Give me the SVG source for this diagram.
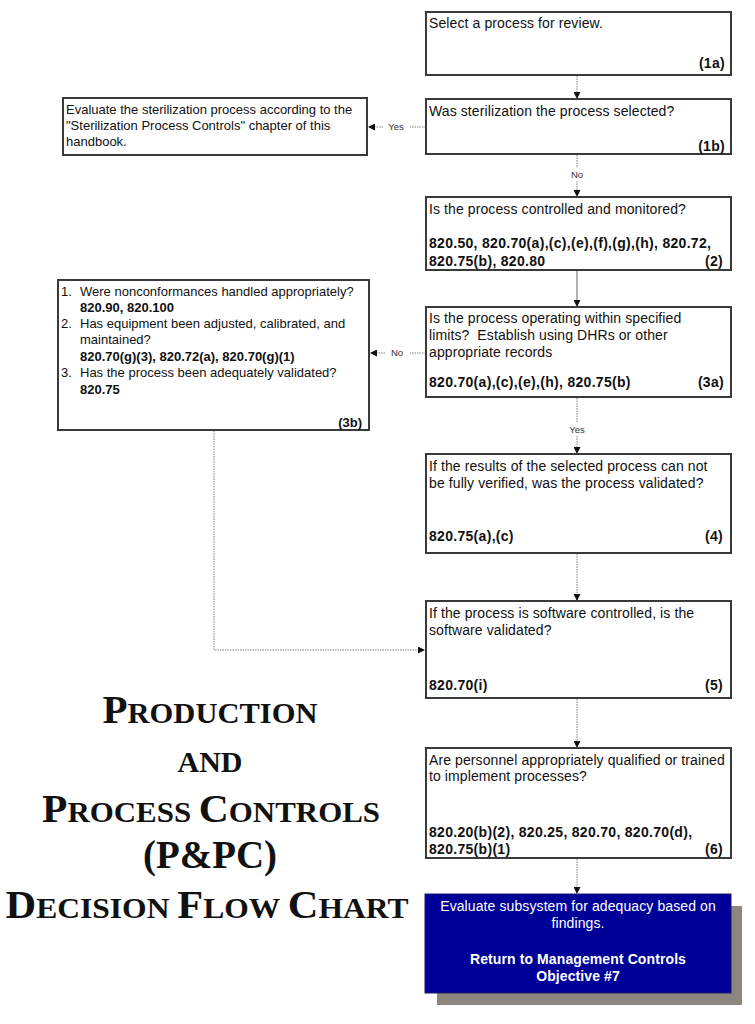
<svg xmlns="http://www.w3.org/2000/svg" width="755" height="1024" viewBox="0 0 755 1024">
<defs>
<style>
.box{fill:#fff;stroke:#3a3a3a;stroke-width:2}
.t{font-family:"Liberation Sans",Arial,sans-serif;font-size:14px;letter-spacing:0.1px;fill:#111}
.t.b,.t.r{letter-spacing:0.3px}
.ts{font-family:"Liberation Sans",Arial,sans-serif;font-size:13px;fill:#111}
.b{font-weight:bold}
.r{text-anchor:end;font-weight:bold}
.lbl{font-family:"Liberation Sans",Arial,sans-serif;font-size:9.5px;fill:#333;text-anchor:middle}
.con{fill:none;stroke:#808080;stroke-width:1;stroke-dasharray:1.5 1}
.title{font-family:"Liberation Serif","Times New Roman",serif;font-weight:bold;fill:#111;text-anchor:middle}
.w{font-family:"Liberation Sans",Arial,sans-serif;font-size:14px;letter-spacing:0.1px;fill:#fff;text-anchor:middle}
</style>
<marker id="ah" viewBox="0 0 10 10" refX="10" refY="5" markerWidth="7" markerHeight="7" markerUnits="userSpaceOnUse" orient="auto">
<path d="M0,0 L10,5 L0,10 z" fill="#111"/>
</marker>
</defs>
<rect width="755" height="1024" fill="#fff"/>

<g id="connectors">
<line class="con" x1="577" y1="76" x2="577" y2="99" marker-end="url(#ah)"/>
<line class="con" x1="577" y1="155" x2="577" y2="168"/>
<line class="con" x1="577" y1="181" x2="577" y2="197" marker-end="url(#ah)"/>
<text class="lbl" x="577" y="178">No</text>
<line class="con" x1="577" y1="271" x2="577" y2="307" marker-end="url(#ah)" style="stroke-dasharray:none;stroke:#666"/>
<line class="con" x1="577" y1="398" x2="577" y2="423"/>
<line class="con" x1="577" y1="436" x2="577" y2="454" marker-end="url(#ah)"/>
<text class="lbl" x="577" y="433">Yes</text>
<line class="con" x1="577" y1="554" x2="577" y2="601" marker-end="url(#ah)"/>
<line class="con" x1="577" y1="699" x2="577" y2="748" marker-end="url(#ah)"/>
<line class="con" x1="577" y1="859" x2="577" y2="894" marker-end="url(#ah)"/>
<line class="con" x1="426" y1="127" x2="410" y2="127"/>
<line class="con" x1="383" y1="127" x2="368" y2="127" marker-end="url(#ah)"/>
<text class="lbl" x="396" y="130">Yes</text>
<line class="con" x1="426" y1="353" x2="410" y2="353"/>
<line class="con" x1="385" y1="353" x2="370" y2="353" marker-end="url(#ah)"/>
<text class="lbl" x="397" y="356">No</text>
<polyline class="con" points="214,431 214,650 425,650" marker-end="url(#ah)"/>
</g>

<g id="n1a">
<rect class="box" x="426" y="12" width="305" height="63"/>
<text class="t" x="429" y="28">Select a process for review.</text>
<text class="t r" x="725" y="68">(1a)</text>
</g>

<g id="n1b">
<rect class="box" x="426" y="99" width="305" height="55"/>
<text class="t" x="429" y="116">Was sterilization the process selected?</text>
<text class="t r" x="725" y="151">(1b)</text>
</g>

<g id="nSter">
<rect class="box" x="63" y="98" width="304" height="57"/>
<text class="ts" x="66" y="114">Evaluate the sterilization process according to the</text>
<text class="ts" x="66" y="130">"Sterilization Process Controls" chapter of this</text>
<text class="ts" x="66" y="146">handbook.</text>
</g>

<g id="n2">
<rect class="box" x="426" y="197" width="305" height="73"/>
<text class="t" x="429" y="214">Is the process controlled and monitored?</text>
<text class="t b" x="429" y="248">820.50, 820.70(a),(c),(e),(f),(g),(h), 820.72,</text>
<text class="t b" x="429" y="266">820.75(b), 820.80</text>
<text class="t r" x="723" y="266">(2)</text>
</g>

<g id="n3a">
<rect class="box" x="426" y="307" width="305" height="90"/>
<text class="t" x="429" y="323">Is the process operating within specified</text>
<text class="t" x="429" y="340" style="white-space:pre">limits?  Establish using DHRs or other</text>
<text class="t" x="429" y="357">appropriate records</text>
<text class="t b" x="429" y="387">820.70(a),(c),(e),(h), 820.75(b)</text>
<text class="t r" x="724" y="387">(3a)</text>
</g>

<g id="n3b">
<rect class="box" x="58" y="280" width="311" height="150"/>
<text class="ts" x="61" y="296">1.</text>
<text class="ts" x="80" y="296">Were nonconformances handled appropriately?</text>
<text class="ts b" x="80" y="312">820.90, 820.100</text>
<text class="ts" x="61" y="328">2.</text>
<text class="ts" x="80" y="328">Has equipment been adjusted, calibrated, and</text>
<text class="ts" x="80" y="344">maintained?</text>
<text class="ts b" x="80" y="361">820.70(g)(3), 820.72(a), 820.70(g)(1)</text>
<text class="ts" x="61" y="377">3.</text>
<text class="ts" x="80" y="377">Has the process been adequately validated?</text>
<text class="ts b" x="80" y="394">820.75</text>
<text class="ts r" x="362" y="427">(3b)</text>
</g>

<g id="n4">
<rect class="box" x="426" y="454" width="305" height="99"/>
<text class="t" x="429" y="471">If the results of the selected process can not</text>
<text class="t" x="429" y="488">be fully verified, was the process validated?</text>
<text class="t b" x="429" y="541">820.75(a),(c)</text>
<text class="t r" x="723" y="541">(4)</text>
</g>

<g id="n5">
<rect class="box" x="426" y="601" width="305" height="97"/>
<text class="t" x="429" y="618">If the process is software controlled, is the</text>
<text class="t" x="429" y="635">software validated?</text>
<text class="t b" x="429" y="690">820.70(i)</text>
<text class="t r" x="723" y="690">(5)</text>
</g>

<g id="n6">
<rect class="box" x="426" y="748" width="305" height="110"/>
<text class="t" x="429" y="765">Are personnel appropriately qualified or trained</text>
<text class="t" x="429" y="781">to implement processes?</text>
<text class="t b" x="429" y="837">820.20(b)(2), 820.25, 820.70, 820.70(d),</text>
<text class="t b" x="429" y="854">820.75(b)(1)</text>
<text class="t r" x="723" y="854">(6)</text>
</g>

<g id="nEnd">
<rect x="437" y="906" width="305" height="99" fill="#8c877e"/>
<rect x="425" y="894" width="306" height="99" fill="#000099" stroke="#1a1a66" stroke-width="1"/>
<text class="w" x="578" y="911">Evaluate subsystem for adequacy based on</text>
<text class="w" x="578" y="928">findings.</text>
<text class="w b" x="578" y="964">Return to Management Controls</text>
<text class="w b" x="578" y="981">Objective #7</text>
</g>

<g id="title">
<text class="title" x="210" y="723" textLength="215" lengthAdjust="spacingAndGlyphs"><tspan font-size="39">P</tspan><tspan font-size="29">RODUCTION</tspan></text>
<text class="title" x="210" y="772" textLength="65" lengthAdjust="spacingAndGlyphs"><tspan font-size="29">AND</tspan></text>
<text class="title" x="211" y="822" textLength="338" lengthAdjust="spacingAndGlyphs"><tspan font-size="39">P</tspan><tspan font-size="29">ROCESS </tspan><tspan font-size="39">C</tspan><tspan font-size="29">ONTROLS</tspan></text>
<text class="title" x="210" y="868" textLength="134" lengthAdjust="spacingAndGlyphs" font-size="39">(P&amp;PC)</text>
<text class="title" x="207" y="918" textLength="403" lengthAdjust="spacingAndGlyphs"><tspan font-size="39">D</tspan><tspan font-size="29">ECISION </tspan><tspan font-size="39">F</tspan><tspan font-size="29">LOW </tspan><tspan font-size="39">C</tspan><tspan font-size="29">HART</tspan></text>
</g>
</svg>
